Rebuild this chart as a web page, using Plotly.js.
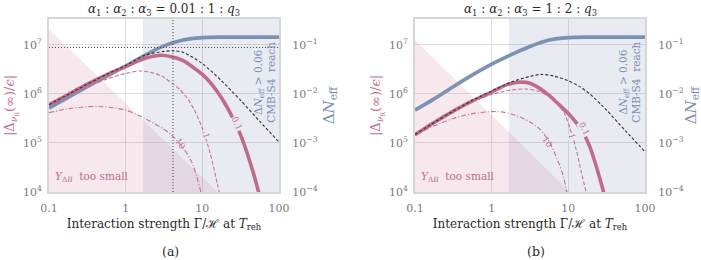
<!DOCTYPE html>
<html>
<head>
<meta charset="utf-8">
<script src="https://cdn.plot.ly/plotly-3.0.1.min.js"></script>
<style>html,body{margin:0;padding:0;background:#fff;}#chart{width:701px;height:260px;}</style>
</head>
<body>
<div id="chart"></div>
<script>
// ---------------- data ----------------
const xAxisTicks = [0.1, 1, 10, 100];
const xTickText = ['0.1', '1', '10', '100'];
const leftTicks = [1e4, 1e5, 1e6, 1e7];
const leftTickText = ['10<sup>4</sup>', '10<sup>5</sup>', '10<sup>6</sup>', '10<sup>7</sup>'];
const rightTicks = [1e-4, 1e-3, 1e-2, 1e-1];
const rightTickText = ['10<sup>−4</sup>', '10<sup>−3</sup>', '10<sup>−2</sup>', '10<sup>−1</sup>'];
const q3Values = ['0.1', '1', '10'];

// ---- panel (a): α1:α2:α3 = 0.01 : 1 : q3 ----
const blueA_x = [0.1, 0.178, 0.316, 0.562, 1, 1.78, 3.16, 5.62, 10, 17.8, 31.6, 100];
const blueA_y = [5.13e-3, 8.51e-3, 1.41e-2, 2.29e-2, 3.72e-2, 6.17e-2, 9.55e-2, 0.126, 0.141, 0.1445, 0.1445, 0.1445];

const blackA_x = [0.1, 0.178, 0.316, 0.562, 1, 1.78, 3.16, 4.17, 5.62, 10, 17.8, 31.6, 56.2, 100];
const blackA_y = [6.03e5, 9.77e5, 1.585e6, 2.51e6, 3.80e6, 6.17e6, 7.41e6, 7.59e6, 7.08e6, 4.17e6, 1.86e6, 7.41e5, 2.75e5, 1.05e5];

const q01A_x = [0.1, 0.178, 0.316, 0.562, 1, 1.585, 2.82, 3.98, 5.62, 7.94, 10, 12.6, 15.8, 20.0, 25.1, 31.6, 39.8, 50.1, 56.2];
const q01A_y = [6.03e5, 9.77e5, 1.585e6, 2.45e6, 3.63e6, 5.01e6, 6.17e6, 5.75e6, 4.79e6, 3.31e6, 2.51e6, 1.74e6, 1.10e6, 6.17e5, 3.16e5, 1.445e5, 5.25e4, 1.585e4, 7.94e3];

const q1A_x = [0.1, 0.178, 0.316, 0.562, 1, 1.585, 2.51, 3.16, 4.17, 5.01, 6.31, 7.94, 10, 12.6, 15.8, 17.8];
const q1A_y = [5.89e5, 9.33e5, 1.413e6, 2.0e6, 2.63e6, 2.95e6, 2.57e6, 2.19e6, 1.585e6, 1.26e6, 8.32e5, 4.57e5, 2.0e5, 6.31e4, 1.41e4, 5.62e3];

const q10A_x = [0.1, 0.178, 0.316, 0.501, 1, 1.78, 3.16, 4.17, 5.62, 7.24, 8.51, 9.55, 10.5];
const q10A_y = [4.17e5, 5.01e5, 5.5e5, 5.5e5, 4.68e5, 3.16e5, 1.905e5, 1.35e5, 7.94e4, 4.17e4, 2.0e4, 1.0e4, 5.0e3];

// CMB-S4 reach band and "Y_ΔB too small" triangle (read on the ΔN_eff axis)
const bandA_x = [1.68, 100, 100, 1.68];
const bandA_y = [1e-4, 1e-4, 0.34, 0.34];
const pinkA_x = [0.1, 15.8, 0.1];
const pinkA_y = [0.209, 1e-4, 1e-4];
// dotted guide lines
const guideA_xv = [4.14, 4.14];
const guideA_yv = [1e4, 3.4e7];
const guideA_xh = [0.1, 100];
const guideA_yh = [8.9e6, 8.9e6];

// ---- panel (b): α1:α2:α3 = 1 : 2 : q3 ----
const blueB_x = [0.1, 0.178, 0.316, 0.562, 1, 1.78, 3.16, 5.62, 10, 17.8, 31.6, 100];
const blueB_y = [4.68e-3, 7.94e-3, 1.41e-2, 2.45e-2, 4.07e-2, 6.31e-2, 9.33e-2, 0.126, 0.141, 0.1445, 0.1445, 0.1445];

const blackB_x = [0.1, 0.178, 0.316, 0.562, 1, 1.78, 3.16, 4.47, 6.31, 10, 14.1, 19.1, 26.9, 31.6, 56.2, 100];
const blackB_y = [1.48e5, 2.63e5, 4.47e5, 7.41e5, 1.148e6, 1.74e6, 2.29e6, 2.51e6, 2.34e6, 1.86e6, 1.413e6, 1.0e6, 6.03e5, 4.68e5, 1.74e5, 6.61e4];

const q01B_x = [0.1, 0.178, 0.316, 0.562, 1, 1.585, 2.24, 3.16, 3.98, 5.62, 7.24, 10, 12.6, 15.5, 19.1, 23.4, 28.8, 31.6];
const q01B_y = [1.48e5, 2.63e5, 4.47e5, 7.24e5, 1.096e6, 1.55e6, 1.74e6, 1.66e6, 1.38e6, 9.33e5, 6.46e5, 3.98e5, 2.63e5, 1.66e5, 8.32e4, 3.16e4, 1.0e4, 5.6e3];

const q1B_x = [0.1, 0.178, 0.316, 0.562, 1, 1.78, 2.82, 3.98, 5.62, 7.08, 8.91, 10.5, 12.6, 14.8, 17.0, 18.6];
const q1B_y = [1.48e5, 2.63e5, 4.37e5, 6.92e5, 9.77e5, 1.2e6, 1.26e6, 1.148e6, 8.91e5, 6.76e5, 3.98e5, 2.0e5, 7.59e4, 2.51e4, 1.0e4, 5.0e3];

const q10B_x = [0.1, 0.178, 0.316, 0.562, 1, 1.413, 2.0, 3.16, 4.27, 5.75, 7.24, 8.51, 9.55, 10.5];
const q10B_y = [1.445e5, 2.24e5, 3.16e5, 3.98e5, 4.37e5, 4.27e5, 3.72e5, 2.69e5, 1.905e5, 1.0e5, 4.47e4, 2.24e4, 1.0e4, 5.0e3];

const bandB_x = [1.68, 100, 100, 1.68];
const bandB_y = [1e-4, 1e-4, 0.34, 0.34];
const pinkB_x = [0.1, 10.5, 0.1];
const pinkB_y = [0.126, 1e-4, 1e-4];

// ---------------- styling ----------------
const FONT = 'DejaVu Serif';
const PINK = '#c06c88';
const PINK_THIN = '#c8708e';
const BLUE = '#7d91b4';
const BLUE_TXT = '#7b8eb2';
const BLACK = '#333333';
const GRID = '#dedede';
const FRAME = '#d6d6d6';
const TICKC = '#7a7a7a';

function panelTraces(xa, yl, yr, d) {
  const sp = {shape: 'spline', smoothing: 0.8};
  return [
    {x: d.band_x, y: d.band_y, xaxis: xa, yaxis: yr, mode: 'lines', fill: 'toself',
     fillcolor: 'rgba(100,130,170,0.15)', line: {width: 0}, hoverinfo: 'skip', showlegend: false},
    {x: d.pink_x, y: d.pink_y, xaxis: xa, yaxis: yr, mode: 'lines', fill: 'toself',
     fillcolor: 'rgba(200,100,140,0.15)', line: {width: 0}, hoverinfo: 'skip', showlegend: false},
    {x: d.blue_x, y: d.blue_y, xaxis: xa, yaxis: yr, mode: 'lines',
     line: Object.assign({color: BLUE, width: 3.6}, sp), showlegend: false},
    {x: d.q10_x, y: d.q10_y, xaxis: xa, yaxis: yl, mode: 'lines', name: 'q3=' + q3Values[2],
     line: Object.assign({color: PINK_THIN, width: 1.1, dash: '5px,2px,1px,2px'}, sp), showlegend: false},
    {x: d.q1_x, y: d.q1_y, xaxis: xa, yaxis: yl, mode: 'lines', name: 'q3=' + q3Values[1],
     line: Object.assign({color: PINK_THIN, width: 1.1, dash: '4px,2px'}, sp), showlegend: false},
    {x: d.q01_x, y: d.q01_y, xaxis: xa, yaxis: yl, mode: 'lines', name: 'q3=' + q3Values[0],
     line: Object.assign({color: PINK, width: 3.6}, sp), showlegend: false},
    {x: d.black_x, y: d.black_y, xaxis: xa, yaxis: yl, mode: 'lines',
     line: Object.assign({color: BLACK, width: 1.1, dash: '3px,2px'}, sp), showlegend: false}
  ];
}

const tracesA = panelTraces('x', 'y', 'y2', {
  band_x: bandA_x, band_y: bandA_y, pink_x: pinkA_x, pink_y: pinkA_y,
  blue_x: blueA_x, blue_y: blueA_y, black_x: blackA_x, black_y: blackA_y,
  q01_x: q01A_x, q01_y: q01A_y, q1_x: q1A_x, q1_y: q1A_y, q10_x: q10A_x, q10_y: q10A_y
});
tracesA.push(
  {x: guideA_xv, y: guideA_yv, xaxis: 'x', yaxis: 'y', mode: 'lines',
   line: {color: '#444', width: 1, dash: '1px,2px'}, showlegend: false},
  {x: guideA_xh, y: guideA_yh, xaxis: 'x', yaxis: 'y', mode: 'lines',
   line: {color: '#444', width: 1, dash: '1px,2px'}, showlegend: false}
);
const tracesB = panelTraces('x2', 'y3', 'y4', {
  band_x: bandB_x, band_y: bandB_y, pink_x: pinkB_x, pink_y: pinkB_y,
  blue_x: blueB_x, blue_y: blueB_y, black_x: blackB_x, black_y: blackB_y,
  q01_x: q01B_x, q01_y: q01B_y, q1_x: q1B_x, q1_y: q1B_y, q10_x: q10B_x, q10_y: q10B_y
});

const W = 701, H = 260;
const yDom = [(H - 192) / H, (H - 19) / H];

function xAxis(dom, anchor) {
  return {
    type: 'log', range: [-1, 2], domain: dom, anchor: anchor,
    showgrid: true, gridcolor: GRID, gridwidth: 1, zeroline: false,
    showline: true, mirror: true, linecolor: FRAME, linewidth: 2,
    tickvals: xAxisTicks, ticktext: xTickText, ticks: '', ticklabelstandoff: 5,
    tickfont: {family: FONT, size: 11, color: TICKC},
    title: {text: 'Interaction strength Γ/ℋ at <i>T</i><sub>reh</sub>', font: {family: FONT, size: 12, color: '#2a2a2a'}, standoff: 5}
  };
}
function leftAxis(over, anchor) {
  return {
    type: 'log', range: [4, 7.53], overlaying: over, side: 'left', anchor: anchor,
    showgrid: true, gridcolor: GRID, gridwidth: 1, zeroline: false,
    showline: true, linecolor: FRAME, linewidth: 2,
    tickvals: leftTicks, ticktext: leftTickText, ticks: '', ticklabelstandoff: 3,
    tickfont: {family: FONT, size: 11, color: TICKC},
    title: {text: '|Δ<sub><i>ν</i><sub>R</sub></sub>(∞)/<i>ϵ</i>|', font: {family: FONT, size: 13, color: PINK}, standoff: 5}
  };
}
function rightAxis(anchor) {
  return {
    type: 'log', range: [-4, -0.47], domain: yDom, side: 'right', anchor: anchor,
    showgrid: false, zeroline: false, showline: true, linecolor: FRAME, linewidth: 2,
    tickvals: rightTicks, ticktext: rightTickText, ticks: '', ticklabelstandoff: 9,
    tickfont: {family: FONT, size: 11, color: TICKC},
    title: {text: 'Δ<i>N</i><sub>eff</sub>', font: {family: FONT, size: 15, color: BLUE_TXT}, standoff: 7}
  };
}

function ann(xr, yr, x, y, text, opts) {
  return Object.assign({xref: xr, yref: yr, x: x, y: y, text: text, showarrow: false,
    xanchor: 'center', yanchor: 'middle',
    font: {family: FONT, size: 10, color: PINK}}, opts || {});
}
const BANDBG = 'rgb(232,236,242)';
const annotations = [
  ann('x domain', 'paper', 0.5, (H - 10) / H, '<i>α</i><sub>1</sub> : <i>α</i><sub>2</sub> : <i>α</i><sub>3</sub> = 0.01 : 1 : <i>q</i><sub>3</sub>', {font: {family: FONT, size: 12, color: '#2a2a2a'}}),
  ann('x2 domain', 'paper', 0.5, (H - 10) / H, '<i>α</i><sub>1</sub> : <i>α</i><sub>2</sub> : <i>α</i><sub>3</sub> = 1 : 2 : <i>q</i><sub>3</sub>', {font: {family: FONT, size: 12, color: '#2a2a2a'}}),
  ann('paper', 'paper', 170 / W, (H - 251) / H, '(a)', {font: {family: FONT, size: 12.5, color: '#2a2a2a'}}),
  ann('paper', 'paper', 536 / W, (H - 251) / H, '(b)', {font: {family: FONT, size: 12.5, color: '#2a2a2a'}}),
  ann('x', 'y', -0.44, 4.31, '<i>Y</i><sub>Δ<i>B</i></sub>  too small', {font: {family: FONT, size: 10.5, color: PINK}}),
  ann('x2', 'y3', -0.44, 4.31, '<i>Y</i><sub>Δ<i>B</i></sub>  too small', {font: {family: FONT, size: 10.5, color: PINK}}),
  ann('x', 'y', 1.815, 6.245, 'Δ<i>N</i><sub>eff</sub> > 0.06<br>CMB-S4  reach', {textangle: -90, font: {family: FONT, size: 10.5, color: BLUE_TXT}}),
  ann('x2', 'y3', 1.80, 6.245, 'Δ<i>N</i><sub>eff</sub> > 0.06<br>CMB-S4  reach', {textangle: -90, font: {family: FONT, size: 10.5, color: BLUE_TXT}}),
  // curve labels (q3 values)
  ann('x', 'y', 1.45, 5.4, q3Values[0], {textangle: 65, bgcolor: BANDBG, borderpad: 0, font: {family: FONT, size: 8.5, color: PINK}}),
  ann('x', 'y', 1.06, 5.15, q3Values[1], {textangle: 72, bgcolor: BANDBG, borderpad: 0, font: {family: FONT, size: 8.5, color: PINK}}),
  ann('x', 'y', 0.72, 4.98, q3Values[2], {textangle: 56, font: {family: FONT, size: 8.5, color: PINK}}),
  ann('x2', 'y3', 1.21, 5.28, q3Values[0], {textangle: 65, bgcolor: BANDBG, borderpad: 0, font: {family: FONT, size: 8.5, color: PINK}}),
  ann('x2', 'y3', 1.05, 5.15, q3Values[1], {textangle: 72, bgcolor: BANDBG, borderpad: 0, font: {family: FONT, size: 8.5, color: PINK}}),
  ann('x2', 'y3', 0.73, 5.02, q3Values[2], {textangle: 57, font: {family: FONT, size: 8.5, color: PINK}})
];

const layout = {
  width: W, height: H,
  margin: {l: 0, r: 0, t: 0, b: 0},
  paper_bgcolor: '#ffffff', plot_bgcolor: '#ffffff',
  showlegend: false,
  font: {family: FONT},
  xaxis: xAxis([49 / W, 279 / W], 'y2'),
  yaxis2: rightAxis('x'),
  yaxis: leftAxis('y2', 'x'),
  xaxis2: xAxis([415 / W, 645 / W], 'y4'),
  yaxis4: rightAxis('x2'),
  yaxis3: leftAxis('y4', 'x2'),
  annotations: annotations
};

Plotly.newPlot('chart', tracesA.concat(tracesB), layout, {staticPlot: true, displayModeBar: false});
</script>
</body>
</html>
